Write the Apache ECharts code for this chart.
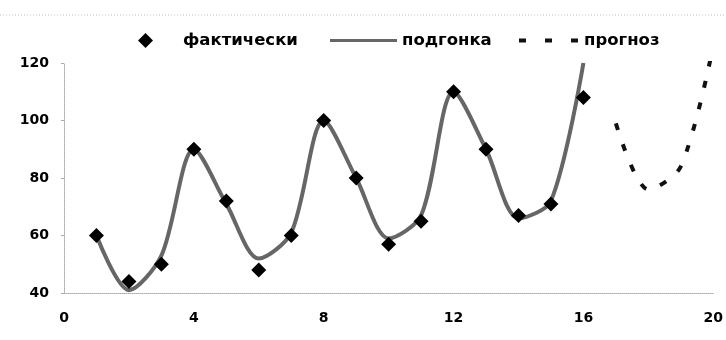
<!DOCTYPE html>
<html>
<head>
<meta charset="utf-8">
<script src="https://cdn.jsdelivr.net/npm/echarts@6/dist/echarts.min.js"></script>
<style>
html,body{margin:0;padding:0;background:#fff;}
#c{width:726px;height:340px;}
</style>
</head>
<body>
<div id="c"></div>
<script>
var periods = [1,2,3,4,5,6,7,8,9,10,11,12,13,14,15,16];
var actual = [60,44,50,90,72,48,60,100,80,57,65,110,90,67,71,108];
var fitted = [60,41,53,90,71,52,61,100,80,59,67,110,90,66,72,120];
var forecastPeriods = [17,18,19,20];
var forecast = [99,76,84,126];
var xTicks = [0,4,8,12,16,20];
var yTicks = [40,60,80,100,120];
var names = ['фактически','подгонка','прогноз'];

function pairs(xs, ys){ return xs.map(function(x,i){ return [x, ys[i]]; }); }

var FONT = 'DejaVu Sans';
var chart = echarts.init(document.getElementById('c'), null, {renderer:'canvas'});
var legendText = {color:'#000', fontFamily:FONT, fontWeight:'bold', fontSize:16.5};
chart.setOption({
  animation:false,
  backgroundColor:'#fff',
  grid:{left:64, right:9, top:63, bottom:47, containLabel:false},
  legend:[
    {left:133, top:27, data:[{name:names[0], icon:'diamond'}], itemWidth:15, itemHeight:15,
     textStyle:Object.assign({padding:[0,0,0,25]}, legendText)},
    {left:325, top:27, data:[{name:names[1], icon:'rect'}], itemWidth:67, itemHeight:3,
     textStyle:legendText},
    {left:514, top:27, data:[{name:names[2], icon:'path://M0,0h7v4h-7z M26,0h7v4h-7z M52,0h7v4h-7z'}], itemWidth:61, itemHeight:4,
     textStyle:legendText}
  ],
  xAxis:{type:'value', min:xTicks[0], max:xTicks[xTicks.length-1], interval:4,
    axisLine:{show:true, lineStyle:{color:'#aaa', type:'dotted', width:1}},
    axisTick:{show:false}, splitLine:{show:false},
    axisLabel:{color:'#000', fontFamily:FONT, fontWeight:'bold', fontSize:14, margin:18}},
  yAxis:{type:'value', min:yTicks[0], max:yTicks[yTicks.length-1], interval:20,
    axisLine:{show:true, lineStyle:{color:'#aaa', type:'dotted', width:1}},
    axisTick:{show:true, length:3, lineStyle:{color:'#aaa'}}, splitLine:{show:false},
    axisLabel:{color:'#000', fontFamily:FONT, fontWeight:'bold', fontSize:14, margin:15}},
  graphic:[{type:'line', shape:{x1:0,y1:15,x2:726,y2:15}, style:{stroke:'#bbb', lineWidth:1, lineDash:[1,2]}, silent:true}],
  series:[
    {name:names[1], type:'line', data:pairs(periods, fitted), smooth:0.3, symbol:'none',
     lineStyle:{color:'#666', width:4}, itemStyle:{color:'#666'}, z:2},
    {name:names[0], type:'scatter', data:pairs(periods, actual), symbol:'diamond', symbolSize:15,
     itemStyle:{color:'#000', opacity:1}, z:3},
    {name:names[2], type:'line', data:pairs(forecastPeriods, forecast), smooth:0.3, symbol:'none',
     lineStyle:{color:'#111', width:4, type:[7,15]}, itemStyle:{color:'#111'}, z:2}
  ]
});
</script>
</body>
</html>
